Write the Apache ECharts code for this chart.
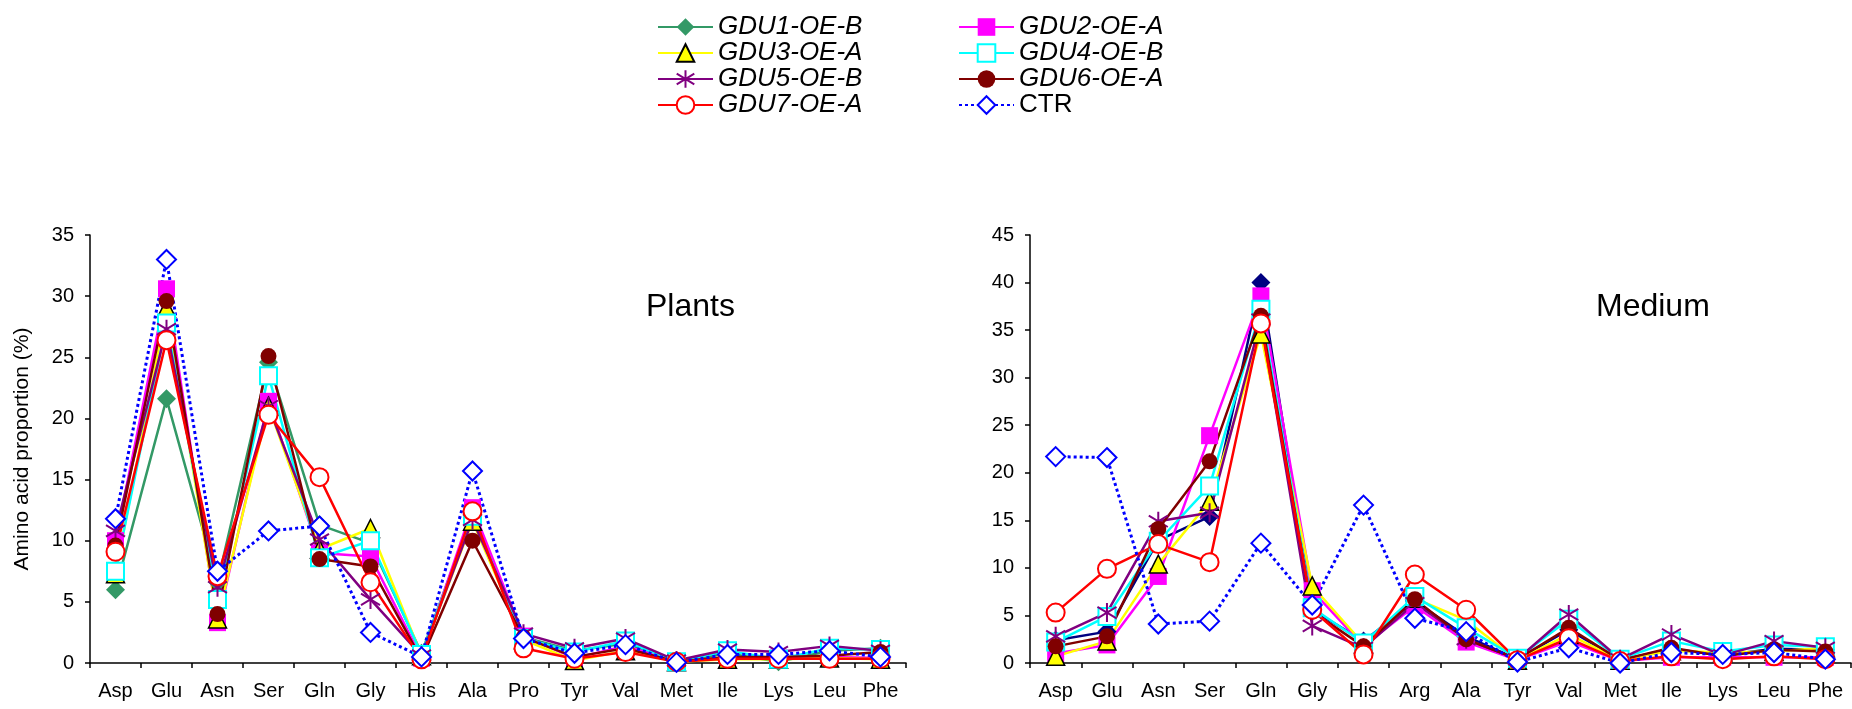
<!DOCTYPE html>
<html>
<head>
<meta charset="utf-8">
<script src="https://cdn.jsdelivr.net/npm/echarts@6/dist/echarts.min.js"></script>
<style>
  html, body { margin: 0; padding: 0; background: #fff; }
  #charts { width: 1852px; height: 709px; }
</style>
</head>
<body>
<div id="charts"></div>
<script>
// categories
const plantCats = ['Asp', 'Glu', 'Asn', 'Ser', 'Gln', 'Gly', 'His', 'Ala', 'Pro', 'Tyr', 'Val', 'Met', 'Ile', 'Lys', 'Leu', 'Phe']
const mediumCats = ['Asp', 'Glu', 'Asn', 'Ser', 'Gln', 'Gly', 'His', 'Arg', 'Ala', 'Tyr', 'Val', 'Met', 'Ile', 'Lys', 'Leu', 'Phe']
const names = ['GDU1-OE-B', 'GDU2-OE-A', 'GDU3-OE-A', 'GDU4-OE-B', 'GDU5-OE-B', 'GDU6-OE-A', 'GDU7-OE-A', 'CTR']

// Plants (%)
const plantGDU1 = [6.0, 21.6, 6.6, 24.6, 11.3, 9.8, 0.8, 12.2, 2.1, 1.0, 1.6, 0.1, 0.8, 0.1, 1.0, 1.2]
const plantGDU2 = [10.0, 30.6, 3.3, 21.4, 9.0, 8.7, 0.4, 12.7, 2.2, 0.4, 1.4, 0.1, 0.4, 0.4, 0.5, 0.4]
const plantGDU3 = [7.3, 29.0, 3.6, 21.0, 9.3, 11.0, 0.6, 11.6, 1.9, 0.2, 1.0, 0.1, 0.3, 0.3, 0.4, 0.3]
const plantGDU4 = [7.5, 27.8, 5.2, 23.5, 8.6, 10.0, 0.7, 12.0, 2.0, 0.9, 1.8, 0.1, 1.0, 0.3, 1.2, 1.1]
const plantGDU5 = [10.8, 27.3, 6.2, 21.0, 10.1, 5.2, 0.6, 11.7, 2.4, 1.2, 2.0, 0.2, 1.1, 0.9, 1.4, 1.0]
const plantGDU6 = [9.6, 29.6, 4.0, 25.1, 8.5, 7.9, 0.3, 10.0, 2.1, 0.5, 1.2, 0.1, 0.5, 0.5, 0.6, 0.9]
const plantGDU7 = [9.1, 26.4, 7.1, 20.3, 15.2, 6.6, 0.3, 12.4, 1.2, 0.35, 0.9, 0.1, 0.35, 0.35, 0.35, 0.35]
const plantCTR = [11.8, 33.0, 7.5, 10.8, 11.2, 2.5, 0.5, 15.7, 2.0, 0.8, 1.5, 0.05, 0.7, 0.7, 1.0, 0.5]

// Medium (%)
const mediumGDU1 = [2.4, 3.3, 12.9, 15.4, 40.0, 5.6, 2.3, 6.5, 2.8, 0.4, 3.5, 0.3, 1.5, 0.8, 1.5, 1.4]
const mediumGDU2 = [1.0, 1.9, 9.1, 23.9, 38.6, 7.6, 1.8, 6.0, 2.2, 0.3, 2.3, 0.2, 0.6, 0.6, 0.6, 0.6]
const mediumGDU3 = [0.7, 2.3, 10.4, 17.0, 34.6, 8.1, 2.0, 6.8, 4.5, 0.3, 3.0, 0.3, 1.3, 1.1, 1.2, 1.6]
const mediumGDU4 = [2.2, 4.9, 12.8, 18.6, 37.2, 5.8, 2.1, 7.0, 3.7, 0.5, 4.6, 0.4, 2.3, 1.2, 1.9, 1.7]
const mediumGDU5 = [2.8, 5.3, 14.9, 15.8, 36.1, 3.9, 1.6, 6.3, 2.5, 0.4, 5.1, 0.4, 3.0, 0.8, 2.3, 1.6]
const mediumGDU6 = [1.75, 2.8, 14.1, 21.2, 36.5, 5.4, 1.75, 6.7, 2.5, 0.4, 3.7, 0.3, 1.6, 0.7, 1.4, 1.2]
const mediumGDU7 = [5.3, 9.9, 12.5, 10.6, 35.7, 5.6, 0.9, 9.3, 5.6, 0.3, 2.6, 0.2, 0.7, 0.4, 0.7, 0.4]
const mediumCTR = [21.7, 21.6, 4.1, 4.4, 12.6, 6.1, 16.6, 4.7, 3.3, 0.1, 1.6, 0.0, 1.1, 0.9, 1.1, 0.4]

const plantData = [plantGDU1, plantGDU2, plantGDU3, plantGDU4, plantGDU5, plantGDU6, plantGDU7, plantCTR]
const mediumData = [mediumGDU1, mediumGDU2, mediumGDU3, mediumGDU4, mediumGDU5, mediumGDU6, mediumGDU7, mediumCTR]

const font = 'Liberation Sans, Arial, sans-serif'
// asterisk marker (vertical bar + X)
const star = 'path://M0,-10L0,10M-8,-6L8,6M-8,6L8,-6'

// marker / line looks, same order as names
const looks = [
  { symbol: 'diamond', size: 19, line: '#339966', fill: '#339966', border: '#339966', bw: 0 },
  { symbol: 'rect', size: 17, line: '#ff00ff', fill: '#ff00ff', border: '#ff00ff', bw: 0 },
  { symbol: 'triangle', size: 18, line: '#ffff00', fill: '#ffff00', border: '#000', bw: 1.5 },
  { symbol: 'rect', size: 17, line: '#00ffff', fill: '#fff', border: '#00ffff', bw: 2 },
  { symbol: star, size: 19, line: '#800080', fill: '#800080', border: '#800080', bw: 2 },
  { symbol: 'circle', size: 16, line: '#800000', fill: '#800000', border: '#800000', bw: 0 },
  { symbol: 'circle', size: 18, line: '#ff0000', fill: '#fff', border: '#ff0000', bw: 2 },
  { symbol: 'diamond', size: 19, line: '#0000ff', fill: '#fff', border: '#0000ff', bw: 2, dotted: true }
]

function makeSeries (idx, data, axisIdx, override) {
  const lk = Object.assign({}, looks[idx], override || {})
  return {
    name: names[idx],
    type: 'line',
    xAxisIndex: axisIdx,
    yAxisIndex: axisIdx,
    data: data,
    symbol: lk.symbol,
    symbolSize: lk.size,
    showAllSymbol: true,
    lineStyle: { color: lk.line, width: lk.dotted ? 3 : 2.5, type: lk.dotted ? [3, 3] : 'solid' },
    itemStyle: { color: lk.fill, borderColor: lk.border, borderWidth: lk.bw },
    emphasis: { disabled: true }
  }
}

const series = []
plantData.forEach((d, i) => series.push(makeSeries(i, d, 0)))
// in the medium panel GDU1-OE-B is drawn in navy
mediumData.forEach((d, i) => series.push(makeSeries(i, d, 1, i === 0 ? { line: '#000080', fill: '#000080', border: '#000080' } : null)))

function xAxisOf (cats, gi) {
  return {
    type: 'category',
    gridIndex: gi,
    data: cats,
    boundaryGap: true,
    axisLine: { lineStyle: { color: '#000', width: 1.5 } },
    axisTick: { show: true, length: 5, lineStyle: { color: '#000', width: 1.5 } },
    axisLabel: { color: '#000', fontSize: 20, fontFamily: font, margin: 18, interval: 0 }
  }
}

function yAxisOf (max, gi, name) {
  return {
    type: 'value',
    gridIndex: gi,
    min: 0,
    max: max,
    interval: 5,
    name: name,
    nameLocation: 'middle',
    nameGap: 57,
    nameTextStyle: { color: '#000', fontSize: 21, fontFamily: font },
    splitLine: { show: false },
    axisLine: { show: true, lineStyle: { color: '#000', width: 1.5 } },
    axisTick: { show: true, length: 5, lineStyle: { color: '#000', width: 1.5 } },
    axisLabel: { color: '#000', fontSize: 20, fontFamily: font, margin: 16 }
  }
}

const option = {
  animation: false,
  backgroundColor: '#fff',
  title: [
    { text: 'Plants', left: 641, top: 286, textStyle: { fontSize: 32, fontWeight: 'normal', color: '#000', fontFamily: font } },
    { text: 'Medium', left: 1591, top: 286, textStyle: { fontSize: 32, fontWeight: 'normal', color: '#000', fontFamily: font } }
  ],
  legend: {
    data: names,
    left: 652,
    top: 9,
    width: 620,
    itemWidth: 55,
    itemHeight: 22,
    itemGap: 0,
    selectedMode: false,
    formatter: function (name) {
      return name === 'CTR' ? '{n|' + name + '}' : '{i|' + name + '}'
    },
    textStyle: {
      rich: {
        i: { fontStyle: 'italic', fontSize: 26, fontFamily: font, color: '#000', width: 240, lineHeight: 27 },
        n: { fontSize: 26, fontFamily: font, color: '#000', width: 240, lineHeight: 27 }
      }
    }
  },
  grid: [
    { left: 90, right: 946, top: 235, bottom: 46 },
    { left: 1030, right: 1, top: 235, bottom: 46 }
  ],
  xAxis: [xAxisOf(plantCats, 0), xAxisOf(mediumCats, 1)],
  yAxis: [yAxisOf(35, 0, 'Amino acid proportion (%)'), yAxisOf(45, 1, '')],
  series: series
}

const charts = echarts.init(document.getElementById('charts'))
charts.setOption(option, true)
window.addEventListener('resize', () => {
  charts.resize()
})
</script>
</body>
</html>
